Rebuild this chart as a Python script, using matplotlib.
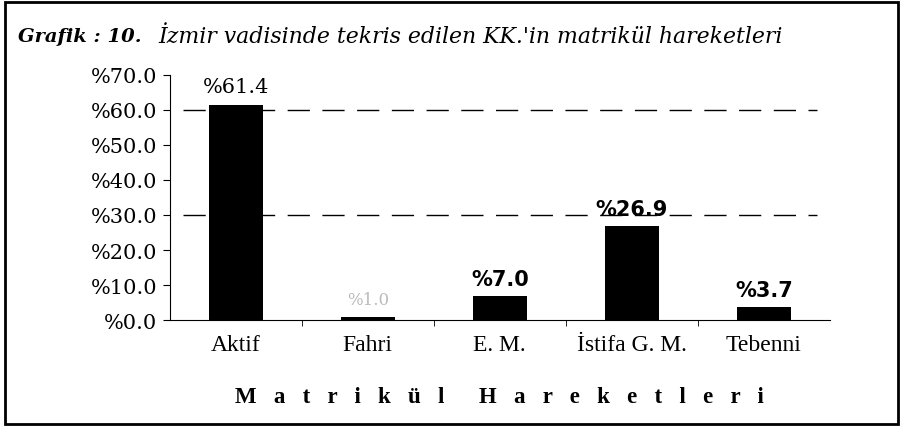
import matplotlib
matplotlib.use('Agg')
import matplotlib.pyplot as plt
from matplotlib.patches import Rectangle

categories = ['Aktif', 'Fahri', 'E. M.', 'İstifa G. M.', 'Tebenni']
values = [61.4, 1.0, 7.0, 26.9, 3.7]
yticks = [0, 10, 20, 30, 40, 50, 60, 70]

fig = plt.figure(figsize=(9.03, 4.31), dpi=100)
ax = fig.add_axes([0.188, 0.255, 0.731, 0.569])

x = list(range(len(categories)))
ax.bar(x, values, width=0.41, color='black', zorder=3)

# faint dashed gridlines surviving in the scan
for g in (30, 60):
    ax.axhline(g, xmin=0.02, xmax=0.98, color='black', lw=1.0, dashes=(16, 9), zorder=1)

ax.set_xlim(-0.5, len(categories) - 0.5)
ax.set_ylim(0, 70)
ax.set_yticks(yticks)
ax.set_yticklabels(['%%%.1f' % t for t in yticks], family='DejaVu Serif', fontsize=15)
ax.set_xticks(x)
ax.set_xticklabels(categories, family='Liberation Serif', fontsize=17)
ax.set_xticks([i + 0.5 for i in x[:-1]], minor=True)
ax.tick_params(axis='x', which='major', length=0, pad=10)
ax.tick_params(axis='x', which='minor', length=4, direction='out')
ax.tick_params(axis='y', length=5, direction='out', pad=4)
for s in ('top', 'right'):
    ax.spines[s].set_visible(False)

for i, v in enumerate(values):
    if i == 0:
        ax.text(i, v + 2.5, '%%%.1f' % v, ha='center', va='bottom',
                family='DejaVu Serif', fontsize=15)
    elif i == 1:
        ax.text(i, v + 2.5, '%%%.1f' % v, ha='center', va='bottom',
                family='DejaVu Serif', fontsize=12, color='#bbbbbb')
    else:
        ax.text(i, v + 2.0, '%%%.1f' % v, ha='center', va='bottom',
                family='DejaVu Sans', fontsize=15, fontweight='bold')

xlabel = '   '.join('Matrikül') + '      ' + '   '.join('Hareketleri')
ax.set_xlabel(xlabel, family='Liberation Serif', fontsize=16.5, fontweight='bold',
              labelpad=22)

fig.text(0.02, 0.915, 'Grafik : 10.', family='DejaVu Serif', fontsize=14,
         fontweight='bold', style='italic', va='center')
fig.text(0.175, 0.915, 'İzmir vadisinde tekris edilen KK.\'in matrikül hareketleri',
         family='DejaVu Serif', fontsize=15.8, style='italic', va='center')

fig.patches.append(Rectangle((0.006, 0.014), 0.988, 0.98, transform=fig.transFigure,
                             fill=False, lw=2, edgecolor='black'))

fig.savefig('out.png', dpi=100)
